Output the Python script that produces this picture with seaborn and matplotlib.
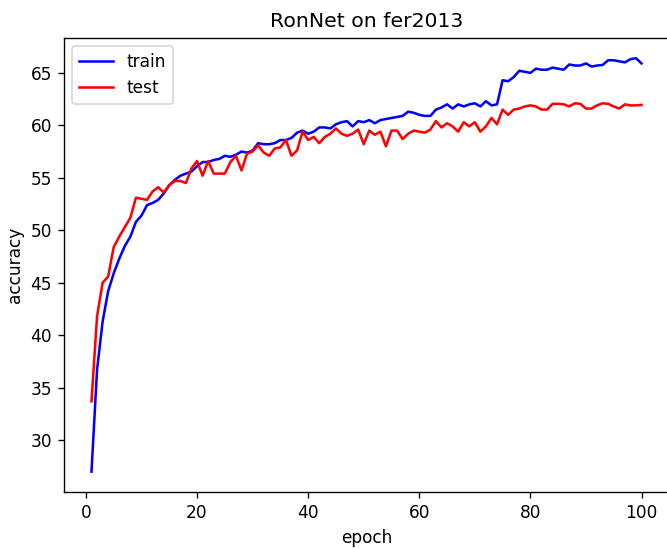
import matplotlib
matplotlib.use("Agg")
import matplotlib.pyplot as plt
import seaborn as sns
import pandas as pd

epochs = list(range(1, 101))

train_acc = [27.0, 36.7, 41.3, 44.2, 45.9, 47.3, 48.5, 49.4, 50.8, 51.4,
             52.4, 52.6, 52.9, 53.5, 54.3, 54.8, 55.2, 55.4, 55.6, 56.1,
             56.5, 56.5, 56.7, 56.8, 57.1, 57.0, 57.2, 57.5, 57.4, 57.6,
             58.3, 58.2, 58.2, 58.3, 58.6, 58.6, 58.8, 59.3, 59.5, 59.2,
             59.4, 59.8, 59.8, 59.7, 60.1, 60.3, 60.4, 59.9, 60.4, 60.3,
             60.5, 60.2, 60.5, 60.6, 60.7, 60.8, 60.9, 61.3, 61.2, 61.0,
             60.9, 60.9, 61.5, 61.7, 62.0, 61.6, 62.0, 61.8, 62.0, 62.1,
             61.8, 62.3, 61.9, 62.0, 64.3, 64.2, 64.6, 65.2, 65.1, 65.0,
             65.4, 65.3, 65.3, 65.5, 65.4, 65.3, 65.8, 65.7, 65.7, 65.9,
             65.6, 65.7, 65.75, 66.2, 66.2, 66.1, 66.0, 66.3, 66.4, 65.9]

test_acc = [33.7, 41.8, 45.0, 45.6, 48.4, 49.4, 50.3, 51.2, 53.1, 53.0,
            52.9, 53.7, 54.1, 53.6, 54.3, 54.7, 54.7, 54.5, 55.9, 56.6,
            55.2, 56.6, 55.4, 55.4, 55.4, 56.5, 57.1, 55.7, 57.3, 57.5,
            58.1, 57.4, 57.1, 57.8, 57.9, 58.6, 57.1, 57.6, 59.4, 58.6,
            58.9, 58.3, 58.9, 59.2, 59.7, 59.2, 59.0, 59.2, 59.6, 58.2,
            59.5, 59.1, 59.4, 58.0, 59.5, 59.5, 58.7, 59.2, 59.5, 59.4,
            59.3, 59.6, 60.4, 59.8, 60.2, 59.9, 59.4, 60.3, 59.9, 60.3,
            59.4, 59.9, 60.7, 60.1, 61.5, 61.0, 61.5, 61.6, 61.8, 61.9,
            61.8, 61.5, 61.5, 62.05, 62.05, 62.0, 61.8, 62.1, 62.05, 61.6,
            61.6, 61.9, 62.1, 62.05, 61.8, 61.6, 62.0, 61.9, 61.9, 61.95]

series_names = ["train", "test"]
series_colors = ["blue", "red"]

DPI = 122
fig = plt.figure(figsize=(667 / DPI, 549 / DPI), dpi=DPI)
ax = fig.add_axes([64 / 667, 1 - 492.3 / 549, (669 - 64) / 667, (492.3 - 37.5) / 549])

for name, vals, col in zip(series_names, [train_acc, test_acc], series_colors):
    df = pd.DataFrame({"epoch": epochs, "accuracy": vals})
    sns.lineplot(data=df, x="epoch", y="accuracy", color=col, label=name,
                 ax=ax, linewidth=1.5)

ax.set_title("RonNet on fer2013")
ax.set_xlabel("epoch")
ax.set_ylabel("accuracy")
ax.set_xticks([0, 20, 40, 60, 80, 100])
ax.set_yticks([30, 35, 40, 45, 50, 55, 60, 65])
ax.legend(loc="upper left")

fig.savefig("out.png", dpi=DPI)
